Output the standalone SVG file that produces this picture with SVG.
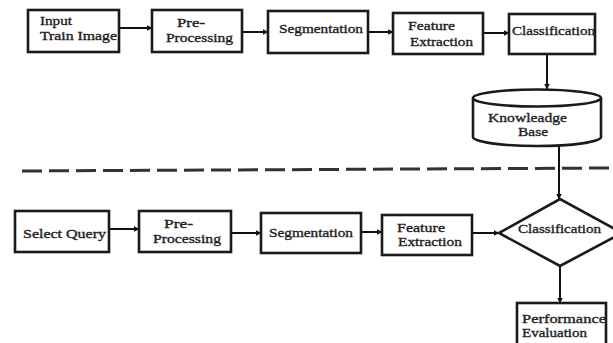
<svg xmlns="http://www.w3.org/2000/svg" width="613" height="343" viewBox="0 0 613 343">
<style>
.box{fill:#fff;stroke:#1a1a1a;stroke-width:2.6}
text{font-family:'Liberation Serif','DejaVu Serif',serif;font-size:13px;fill:#222;stroke:#222;stroke-width:0.35}
.c{fill:none;stroke:#111;stroke-width:2}
.dash{fill:none;stroke:#333;stroke-width:3;stroke-dasharray:20 7}
</style>
<defs>
<marker id="ah" markerWidth="6" markerHeight="6" refX="5.5" refY="3" orient="auto" markerUnits="userSpaceOnUse">
<path d="M0,0 L6,3 L0,6 Z" fill="#111"/>
</marker>
</defs>
<rect width="613" height="343" fill="#fff"/>
<g id="connectors">
<line class="c" x1="119" y1="28" x2="152" y2="28" marker-end="url(#ah)"/>
<line class="c" x1="242" y1="32" x2="268" y2="32" marker-end="url(#ah)"/>
<line class="c" x1="368" y1="32" x2="393" y2="32" marker-end="url(#ah)"/>
<line class="c" x1="483" y1="33" x2="509" y2="33" marker-end="url(#ah)"/>
<line class="c" x1="547" y1="54" x2="547" y2="89" marker-end="url(#ah)"/>
<line class="c" x1="559" y1="146" x2="559" y2="199" marker-end="url(#ah)"/>
<line class="c" x1="109" y1="229" x2="139" y2="229" marker-end="url(#ah)"/>
<line class="c" x1="231" y1="233" x2="261" y2="233" marker-end="url(#ah)"/>
<line class="c" x1="361" y1="232" x2="382" y2="232" marker-end="url(#ah)"/>
<line class="c" x1="472" y1="233" x2="499" y2="233" marker-end="url(#ah)"/>
<line class="c" x1="560" y1="266" x2="560" y2="303" marker-end="url(#ah)"/>
</g>
<g id="divider">
<path class="dash" d="M22,171 L613,168"/>
</g>
<g id="input-train">
<rect class="box" x="28" y="10" width="91" height="42"/>
<text x="40" y="25" textLength="32" lengthAdjust="spacingAndGlyphs">Input</text>
<text x="40" y="40" textLength="77" lengthAdjust="spacingAndGlyphs">Train Image</text>
</g>
<g id="preproc-top">
<rect class="box" x="152" y="10" width="90" height="42"/>
<text x="177" y="27" textLength="28" lengthAdjust="spacingAndGlyphs">Pre-</text>
<text x="166" y="42" textLength="67" lengthAdjust="spacingAndGlyphs">Processing</text>
</g>
<g id="seg-top">
<rect class="box" x="268" y="11" width="100" height="42"/>
<text x="279" y="33" textLength="84" lengthAdjust="spacingAndGlyphs">Segmentation</text>
</g>
<g id="feat-top">
<rect class="box" x="393" y="13" width="90" height="41"/>
<text x="408" y="30" textLength="47" lengthAdjust="spacingAndGlyphs">Feature</text>
<text x="410" y="46" textLength="63" lengthAdjust="spacingAndGlyphs">Extraction</text>
</g>
<g id="class-top">
<rect class="box" x="509" y="14" width="86" height="40"/>
<text x="512" y="35" textLength="83" lengthAdjust="spacingAndGlyphs">Classification</text>
</g>
<g id="knowledge-base">
<path class="box" d="M473,98 L473,137 A64,9 0 0 0 601,137 L601,98"/>
<ellipse class="box" cx="537" cy="98" rx="64" ry="8.5"/>
<text x="488" y="122" textLength="79" lengthAdjust="spacingAndGlyphs">Knowleadge</text>
<text x="518" y="136" textLength="30" lengthAdjust="spacingAndGlyphs">Base</text>
</g>
<g id="select-query">
<rect class="box" x="15" y="211" width="94" height="41"/>
<text x="23" y="238" textLength="83" lengthAdjust="spacingAndGlyphs">Select Query</text>
</g>
<g id="preproc-bottom">
<rect class="box" x="139" y="211" width="92" height="41"/>
<text x="164" y="228" textLength="29" lengthAdjust="spacingAndGlyphs">Pre-</text>
<text x="153" y="243" textLength="68" lengthAdjust="spacingAndGlyphs">Processing</text>
</g>
<g id="seg-bottom">
<rect class="box" x="261" y="213" width="100" height="40"/>
<text x="269" y="237" textLength="84" lengthAdjust="spacingAndGlyphs">Segmentation</text>
</g>
<g id="feat-bottom">
<rect class="box" x="382" y="215" width="90" height="40"/>
<text x="397" y="232" textLength="48" lengthAdjust="spacingAndGlyphs">Feature</text>
<text x="398" y="246" textLength="64" lengthAdjust="spacingAndGlyphs">Extraction</text>
</g>
<g id="class-bottom">
<path class="box" d="M499,233 L560,199 L622,233 L560,266 Z"/>
<text x="518" y="233" textLength="83" lengthAdjust="spacingAndGlyphs">Classification</text>
</g>
<g id="performance">
<rect class="box" x="517" y="303" width="89" height="50"/>
<text x="522" y="323" textLength="84" lengthAdjust="spacingAndGlyphs">Performance</text>
<text x="522" y="337" textLength="65" lengthAdjust="spacingAndGlyphs">Evaluation</text>
</g>
</svg>
